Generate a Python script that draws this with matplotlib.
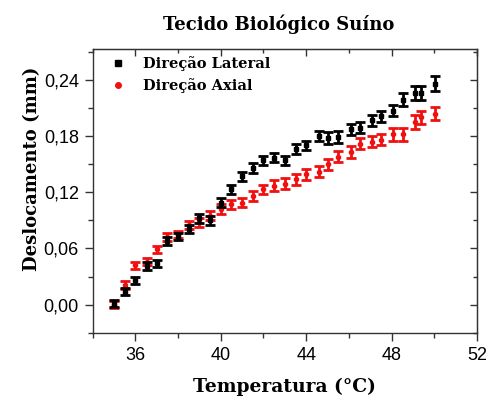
import matplotlib
matplotlib.use("Agg")
import matplotlib.pyplot as plt
from matplotlib.lines import Line2D
from matplotlib.ticker import MultipleLocator, FuncFormatter


temperatura = [35.0, 35.5, 36.0, 36.55, 37.0, 37.5, 38.0, 38.5, 39.0, 39.5,
               40.0, 40.5, 41.0, 41.5, 42.0, 42.5, 43.0, 43.5, 44.0, 44.6,
               45.0, 45.5, 46.1, 46.5, 47.1, 47.5, 48.05, 48.55, 49.1, 49.4, 50.05]

lateral = [0.001, 0.014, 0.026, 0.041, 0.044, 0.068, 0.073, 0.081, 0.092, 0.090,
           0.109, 0.123, 0.137, 0.146, 0.154, 0.157, 0.154, 0.166, 0.170, 0.180,
           0.178, 0.179, 0.187, 0.189, 0.197, 0.201, 0.207, 0.219, 0.226, 0.226, 0.236]
lateral_err = [0.004, 0.004, 0.004, 0.004, 0.004, 0.004, 0.004, 0.004, 0.005, 0.005,
               0.005, 0.005, 0.005, 0.005, 0.005, 0.005, 0.005, 0.005, 0.005, 0.005,
               0.006, 0.006, 0.006, 0.006, 0.006, 0.006, 0.006, 0.007, 0.007, 0.007, 0.008]

axial = [0.000, 0.021, 0.042, 0.046, 0.059, 0.072, 0.075, 0.085, 0.088, 0.095,
         0.102, 0.107, 0.109, 0.116, 0.123, 0.127, 0.129, 0.134, 0.139, 0.142,
         0.150, 0.158, 0.163, 0.172, 0.174, 0.176, 0.182, 0.182, 0.195, 0.200, 0.204]
axial_err = [0.004, 0.004, 0.004, 0.004, 0.004, 0.004, 0.004, 0.004, 0.005, 0.005,
             0.005, 0.005, 0.005, 0.005, 0.005, 0.006, 0.006, 0.006, 0.006, 0.006,
             0.006, 0.006, 0.006, 0.006, 0.006, 0.006, 0.007, 0.007, 0.007, 0.007, 0.007]

FONTE_SERIF = "DejaVu Serif"
FONTE_SANS = "Liberation Sans"
VERMELHO = "#f01010"
CINZA = "#333333"


def virgula(v, pos):
    return f"{v:.2f}".replace(".", ",")


fig = plt.figure(figsize=(4.86, 3.98), dpi=100)
ax = fig.add_axes([0.1907, 0.164, 0.7908, 0.713])

ax.errorbar(temperatura, axial, yerr=axial_err, fmt="o", color=VERMELHO,
            markersize=3, elinewidth=2, capsize=3.5, capthick=2, zorder=3)
ax.errorbar(temperatura, lateral, yerr=lateral_err, fmt="s", color="black",
            markersize=3, elinewidth=2, capsize=3.5, capthick=2, zorder=4)

ax.set_xlim(34, 52)
ax.set_ylim(-0.03, 0.273)
ax.xaxis.set_major_locator(MultipleLocator(4))
ax.xaxis.set_minor_locator(MultipleLocator(2))
ax.yaxis.set_major_locator(MultipleLocator(0.06))
ax.yaxis.set_minor_locator(MultipleLocator(0.03))
ax.xaxis.set_major_formatter(FuncFormatter(lambda v, p: f"{v:.0f}"))
ax.yaxis.set_major_formatter(FuncFormatter(virgula))
ax.xaxis.set_minor_formatter(FuncFormatter(lambda v, p: ""))

ax.tick_params(which="major", direction="out", length=6, width=1, color=CINZA,
               labelsize=13, pad=4)
ax.tick_params(which="minor", direction="out", length=3.5, width=1, color=CINZA)
for lbl in ax.get_xticklabels() + ax.get_yticklabels():
    lbl.set_family(FONTE_SANS)

# ticks espelhados no topo e na direita, para dentro
topo = ax.secondary_xaxis("top")
topo.xaxis.set_major_locator(MultipleLocator(4))
topo.xaxis.set_minor_locator(MultipleLocator(2))
topo.tick_params(which="major", direction="in", length=5, width=1, color=CINZA,
                 labeltop=False)
topo.tick_params(which="minor", direction="in", length=3, width=1, color=CINZA)

direita = ax.secondary_yaxis("right")
direita.yaxis.set_major_locator(MultipleLocator(0.06))
direita.yaxis.set_minor_locator(MultipleLocator(0.03))
direita.tick_params(which="major", direction="in", length=5, width=1, color=CINZA,
                    labelright=False)
direita.tick_params(which="minor", direction="in", length=3, width=1, color=CINZA)

for s in ax.spines.values():
    s.set_color(CINZA)
    s.set_linewidth(1)
for s in topo.spines.values():
    s.set_color(CINZA)
for s in direita.spines.values():
    s.set_color(CINZA)

ax.set_title("Tecido Biológico Suíno", fontfamily=FONTE_SERIF, fontweight="bold",
             fontsize=13, pad=14, x=0.485)
ax.set_xlabel("Temperatura (°C)", fontfamily=FONTE_SERIF, fontweight="bold",
              fontsize=13.5, labelpad=10)
ax.set_ylabel("Deslocamento (mm)", fontfamily=FONTE_SERIF, fontweight="bold",
              fontsize=13)
ax.yaxis.set_label_coords(-0.135, 0.577)

handles = [
    Line2D([], [], marker="s", linestyle="none", color="black", markersize=4),
    Line2D([], [], marker="o", linestyle="none", color=VERMELHO, markersize=4),
]
ax.legend(handles, ["Direção Lateral", "Direção Axial"], loc="upper left",
          frameon=False, prop={"family": FONTE_SERIF, "weight": "bold", "size": 10.5},
          handlelength=1, handletextpad=1.2, labelspacing=0.45,
          borderaxespad=0.3, bbox_to_anchor=(0.02, 1.01))

fig.savefig("out.png", dpi=100)
